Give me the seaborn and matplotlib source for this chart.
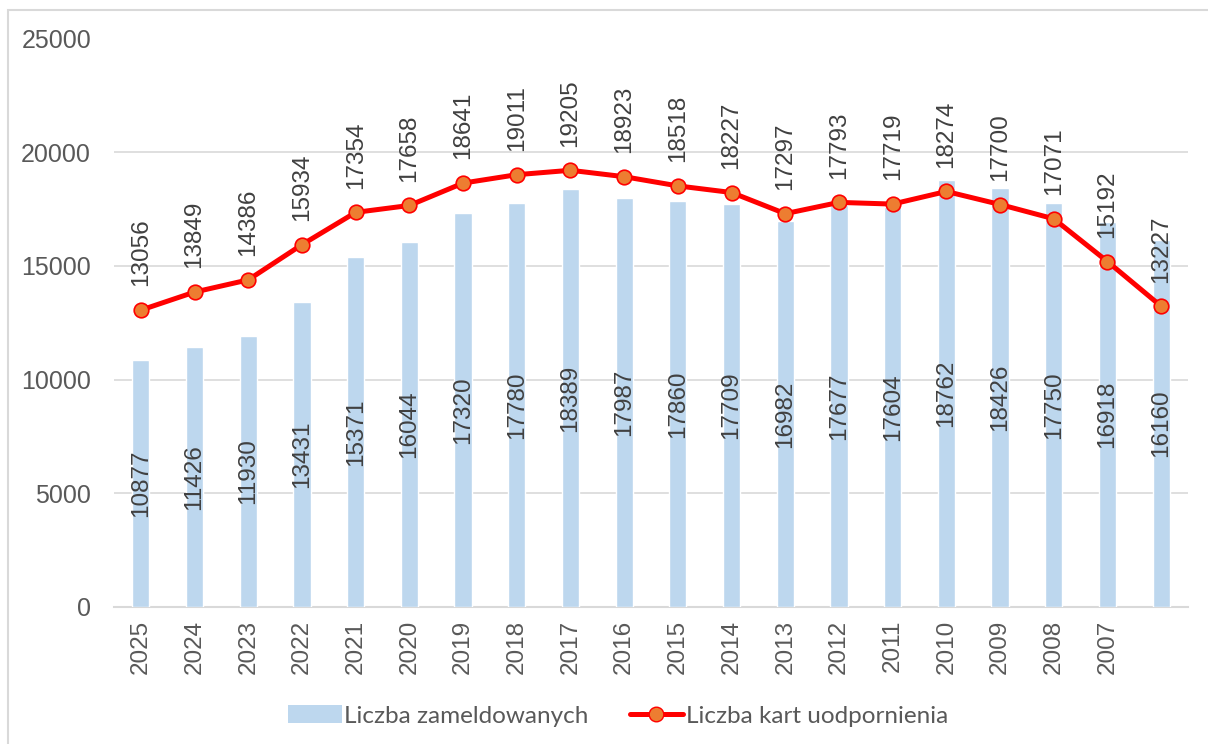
import numpy as np
import pandas as pd
import matplotlib
matplotlib.use("Agg")
import matplotlib.pyplot as plt
from matplotlib.patches import Rectangle
from matplotlib.lines import Line2D
from matplotlib.patches import Patch
import seaborn as sns

years = ["2025", "2024", "2023", "2022", "2021", "2020", "2019", "2018", "2017", "2016",
         "2015", "2014", "2013", "2012", "2011", "2010", "2009", "2008", "2007", ""]
zameldowani = [10877, 11426, 11930, 13431, 15371, 16044, 17320, 17780, 18389, 17987,
               17860, 17709, 16982, 17677, 17604, 18762, 18426, 17750, 16918, 16160]
karty = [13056, 13849, 14386, 15934, 17354, 17658, 18641, 19011, 19205, 18923,
         18518, 18227, 17297, 17793, 17719, 18274, 17700, 17071, 15192, 13227]

df = pd.DataFrame({"idx": np.arange(len(years)), "rok": years,
                   "zameldowani": zameldowani, "karty": karty})

sns.set_style("white")
plt.rcParams['font.family'] = ['Liberation Sans', 'DejaVu Sans']

W, H = 1208, 744
fig = plt.figure(figsize=(W / 100, H / 100), dpi=100)
ax = fig.add_axes([114 / W, 1 - 607 / H, (1188 - 114) / W, (607 - 38.5) / H])

bar_c = "#bdd7ee"
txt_c = "#595959"
lab_c = "#404040"

sns.barplot(data=df, x="idx", y="zameldowani", color=bar_c, width=0.32,
            saturation=1, ax=ax, zorder=2)
sns.lineplot(data=df, x="idx", y="karty", color="#ff0000", lw=3.6, marker="o",
             markersize=10.5, markerfacecolor="#ed7d31", markeredgecolor="#ff0000",
             markeredgewidth=1.2, ax=ax, zorder=4)

for i, (z, k) in enumerate(zip(zameldowani, karty)):
    ax.text(i, z / 2, str(z), rotation=90, ha="center", va="center",
            fontsize=17.5, color=lab_c, zorder=5)
    ax.annotate(str(k), (i, k), xytext=(0, 17), textcoords="offset points",
                rotation=90, ha="center", va="bottom", fontsize=17.5,
                color=lab_c, zorder=5)

ax.set_xlim(-0.5, len(years) - 0.5)
ax.set_ylim(0, 25000)
ax.set_yticks(np.arange(0, 25001, 5000))
ax.set_xticks(df["idx"])
ax.set_xticklabels(years, rotation=90)
ax.tick_params(axis="y", length=0, pad=16.5, labelsize=18, labelcolor=txt_c)
ax.tick_params(axis="x", length=0, pad=9, labelsize=17.5, labelcolor=txt_c)
ax.set_xlabel("")
ax.set_ylabel("")
ax.grid(axis="y", color="#d9d9d9", lw=1.2, zorder=0)
ax.set_axisbelow(True)
for s in ["top", "right", "left"]:
    ax.spines[s].set_visible(False)
ax.spines["bottom"].set_color("#d9d9d9")
ax.spines["bottom"].set_linewidth(1.5)
ax.spines["bottom"].set_zorder(1)

handles = [Patch(facecolor=bar_c, edgecolor="none"),
           Line2D([], [], color="#ff0000", lw=3.6, marker="o", markersize=10.5,
                  markerfacecolor="#ed7d31", markeredgecolor="#ff0000")]
fig.legend(handles, ["Liczba zameldowanych", "Liczba kart uodpornienia"],
           loc="center", bbox_to_anchor=(0.5116, 1 - 716 / H), ncol=2, frameon=False,
           prop={"family": ["Lato", "DejaVu Sans"], "size": 17.5}, labelcolor=txt_c,
           handlelength=2.2, handletextpad=0.1, columnspacing=1.7)

fig.patches.append(Rectangle((8 / W, -0.05), 1.1, 1 - 10 / H + 0.05, transform=fig.transFigure,
                             fill=False, edgecolor="#d9d9d9", lw=1.5))

fig.savefig("out.png", dpi=100)
